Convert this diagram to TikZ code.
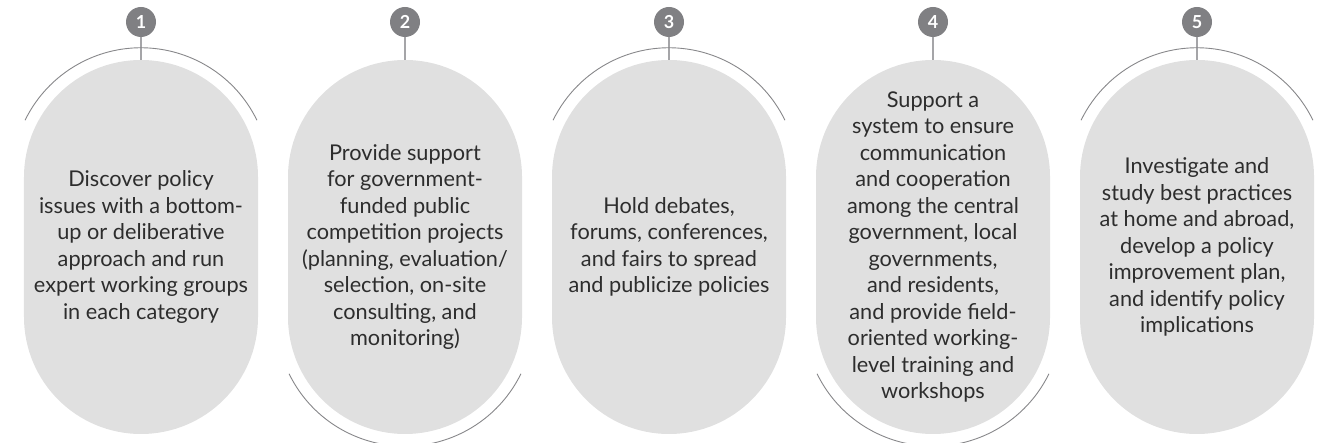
\documentclass[tikz,border=0pt]{standalone}
\usepackage{fontspec}
\setsansfont{Lato}
\definecolor{pillgray}{RGB}{224,224,224}
\definecolor{badgegray}{RGB}{128,128,131}
\definecolor{stemgray}{RGB}{165,165,168}
\definecolor{ringgray}{RGB}{135,135,138}
\definecolor{textgray}{RGB}{45,45,45}
\tikzset{every picture/.style={/utils/exec={\sffamily}}}
\usetikzlibrary{calc}

\tikzset{
  pill/.style={fill=pillgray, draw=none, rounded corners=117bp, inner sep=0pt,
    minimum width=234bp, minimum height=374bp, text=textgray, align=center,
    font=\fontsize{21.8}{26.6}\selectfont},
  badge/.style={circle, fill=badgegray, minimum size=30bp, inner sep=0pt,
    text=white, font=\fontsize{18}{18}\selectfont\bfseries},
  stem/.style={draw=stemgray, line width=1.3bp},
  ring/.style={draw=ringgray, line width=0.9bp}
}

\begin{document}
\begin{tikzpicture}[x=1bp,y=1bp]
  \useasboundingbox (0,0) rectangle (1325,443);

  % the five steps
  \node [pill] (p1) at (141,196) {Discover policy\\issues with a bottom-\\up or deliberative\\approach and run\\expert working groups\\in each category};
  \node [pill] (p2) at (405,196) {Provide support\\for government-\\funded public\\competition projects\\(planning, evaluation/\\selection, on-site\\consulting, and\\monitoring)};
  \node [pill] (p3) at (669,196) {Hold debates,\\forums, conferences,\\and fairs to spread\\and publicize policies};
  \node [pill] (p4) at (933,196) {Support a\\system to ensure\\communication\\and cooperation\\among the central\\government, local\\governments,\\and residents,\\and provide field-\\oriented working-\\level training and\\workshops};
  \node [pill] (p5) at (1197,196) {Investigate and\\study best practices\\at home and abroad,\\develop a policy\\improvement plan,\\and identify policy\\implications};

  % numbers
  \node [badge] (n1) at (141,421) {1};
  \node [badge] (n2) at (405,421) {2};
  \node [badge] (n3) at (669,421) {3};
  \node [badge] (n4) at (933,421) {4};
  \node [badge] (n5) at (1197,421) {5};

  \draw [stem] (n1) -- (p1);
  \draw [stem] (n2) -- (p2);
  \draw [stem] (n3) -- (p3);
  \draw [stem] (n4) -- (p4);
  \draw [stem] (n5) -- (p5);

  % arcs, top and bottom in turn
  \draw [ring] ($(p1.north)+(0,-117)$) ++(26:129bp) arc [start angle=26, end angle=154, radius=129bp];
  \draw [ring] ($(p2.south)+(0,117)$) ++(206:129bp) arc [start angle=206, end angle=334, radius=129bp];
  \draw [ring] ($(p3.north)+(0,-117)$) ++(26:129bp) arc [start angle=26, end angle=154, radius=129bp];
  \draw [ring] ($(p4.south)+(0,117)$) ++(206:129bp) arc [start angle=206, end angle=334, radius=129bp];
  \draw [ring] ($(p5.north)+(0,-117)$) ++(26:129bp) arc [start angle=26, end angle=154, radius=129bp];

\end{tikzpicture}
\end{document}
